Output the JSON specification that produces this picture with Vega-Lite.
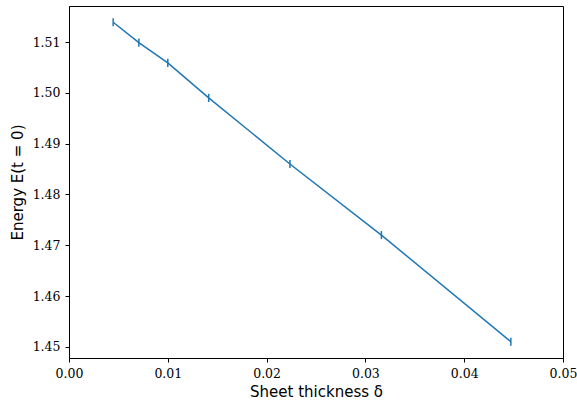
{
  "$schema": "https://vega.github.io/schema/vega-lite/v6.json",
  "autosize": {"type": "none"},
  "width": 494,
  "height": 352,
  "padding": {"left": 69, "top": 6, "right": 14, "bottom": 47},
  "background": "white",
  "config": {
    "view": {"stroke": "black", "strokeWidth": 1},
    "axis": {
      "grid": false,
      "labelFlush": false,
      "domainColor": "black",
      "tickColor": "black",
      "tickSize": 4,
      "labelPadding": 5,
      "labelFont": "DejaVu Serif",
      "labelFontSize": 12.5,
      "labelColor": "black",
      "titleFont": "DejaVu Sans",
      "titleFontSize": 15,
      "titleFontWeight": "normal",
      "titleColor": "black"
    }
  },
  "data": {
    "values": [
      {"delta": 0.00447, "E": 1.5139, "lo": 1.5131, "hi": 1.5147},
      {"delta": 0.00707, "E": 1.5099, "lo": 1.5091, "hi": 1.5107},
      {"delta": 0.01, "E": 1.5059, "lo": 1.5051, "hi": 1.5067},
      {"delta": 0.01414, "E": 1.4990, "lo": 1.4982, "hi": 1.4998},
      {"delta": 0.02236, "E": 1.4860, "lo": 1.4852, "hi": 1.4868},
      {"delta": 0.03162, "E": 1.4720, "lo": 1.4712, "hi": 1.4728},
      {"delta": 0.04472, "E": 1.4510, "lo": 1.4502, "hi": 1.4518}
    ]
  },
  "layer": [
    {
      "mark": {"type": "line", "color": "#1f77b4", "strokeWidth": 1.5},
      "encoding": {
        "x": {
          "field": "delta", "type": "quantitative",
          "scale": {"domain": [0, 0.05], "nice": false, "zero": false},
          "axis": {
            "values": [0, 0.01, 0.02, 0.03, 0.04, 0.05], "format": ".2f",
            "title": "Sheet thickness δ", "titlePadding": 5
          }
        },
        "y": {
          "field": "E", "type": "quantitative",
          "scale": {"domain": [1.4478, 1.5171], "nice": false, "zero": false},
          "axis": {
            "values": [1.45, 1.46, 1.47, 1.48, 1.49, 1.50, 1.51], "format": ".2f",
            "title": "Energy E(t = 0)", "titlePadding": 7
          }
        }
      }
    },
    {
      "mark": {"type": "rule", "color": "#1f77b4", "strokeWidth": 1.5},
      "encoding": {
        "x": {"field": "delta", "type": "quantitative"},
        "y": {"field": "lo", "type": "quantitative"},
        "y2": {"field": "hi"}
      }
    }
  ]
}
